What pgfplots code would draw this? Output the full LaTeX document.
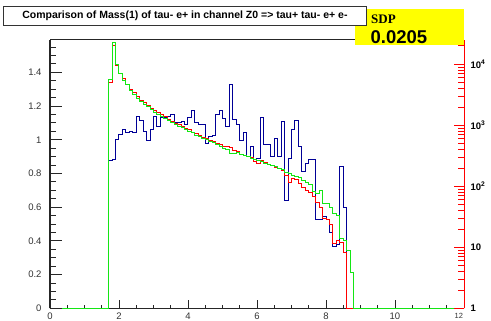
\documentclass[border=0pt]{standalone}
\usepackage{fontspec}
\setmainfont{Liberation Sans}
\newfontfamily\timesfont{Liberation Serif}
\usepackage{pgfplots}
\pgfplotsset{compat=1.18}
\usepackage{pgfplotstable}

\definecolor{histblue}{RGB}{0,0,150}
\definecolor{histred}{RGB}{255,0,0}
\definecolor{histgreen}{RGB}{20,230,20}
\definecolor{sdpyellow}{RGB}{255,255,0}

% Mass(1) of tau- e+ : bin left edges (width 0.1) and contents
% b = blue sample, r = red sample, g = green sample
\pgfplotstableread{
x    b     r     g
0    0     0     0
1.7  0.874 1.340 1.355
1.8  0.880 1.560 1.578
1.9  1.000 1.440 1.447
2.0  1.034 1.395 1.394
2.1  1.058 1.365 1.354
2.2  1.042 1.330 1.325
2.3  1.048 1.300 1.292
2.4  1.045 1.280 1.270
2.5  1.140 1.255 1.245
2.6  1.117 1.235 1.228
2.7  1.050 1.218 1.208
2.8  0.998 1.205 1.195
2.9  1.062 1.188 1.180
3.0  1.137 1.172 1.163
3.1  1.078 1.160 1.150
3.2  1.130 1.148 1.140
3.3  1.130 1.135 1.125
3.4  1.140 1.120 1.112
3.5  1.150 1.110 1.100
3.6  1.100 1.098 1.092
3.7  1.100 1.088 1.080
3.8  1.110 1.077 1.070
3.9  1.090 1.068 1.058
4.0  1.130 1.058 1.050
4.1  1.176 1.045 1.040
4.2  1.100 1.035 1.028
4.3  1.090 1.025 1.020
4.4  1.090 1.015 1.008
4.5  0.978 1.008 1.000
4.6  1.020 0.998 0.990
4.7  1.025 0.988 0.982
4.8  1.150 0.978 0.972
4.9  1.176 0.970 0.962
5.0  1.125 0.960 0.950
5.1  1.080 0.958 0.943
5.2  1.330 0.955 0.920
5.3  1.120 0.938 0.918
5.4  1.090 0.930 0.925
5.5  0.998 0.915 0.912
5.6  1.040 0.908 0.905
5.7  0.900 0.900 0.898
5.8  0.960 0.892 0.890
5.9  0.884 0.870 0.883
6.0  0.890 0.862 0.878
6.1  1.133 0.878 0.870
6.2  0.969 0.865 0.862
6.3  0.969 0.855 0.856
6.4  0.900 0.848 0.848
6.5  1.010 0.838 0.840
6.6  0.900 0.830 0.832
6.7  1.107 0.815 0.825
6.8  0.638 0.790 0.805
6.9  0.890 0.745 0.798
7.0  1.060 0.770 0.790
7.1  1.117 0.765 0.782
7.2  0.960 0.740 0.775
7.3  0.810 0.715 0.760
7.4  0.860 0.700 0.745
7.5  0.884 0.685 0.735
7.6  0.884 0.665 0.690
7.7  0.528 0.630 0.680
7.8  0.528 0.600 0.700
7.9  0.547 0.530 0.620
8.0  0.528 0.525 0.620
8.1  0.450 0.495 0.600
8.2  0.365 0.386 0.560
8.3  0.380 0.405 0.550
8.4  0.840 0.390 0.415
8.5  0.600 0.330 0.405
8.6  0     0     0.345
8.7  0     0     0.215
8.8  0     0     0
12   0     0     0
}\masstab

\pgfplotsset{
  frame geom/.style={
    at={(50pt,12.7pt)}, anchor=origin,
    scale only axis, width=414pt, height=268pt,
    xmin=0, xmax=12,
  },
}

\begin{document}
\begin{tikzpicture}
\useasboundingbox (0pt,0pt) rectangle (491pt,321pt);
\fill[white] (0pt,0pt) rectangle (491pt,321pt);

% histograms, x axis and its ticks
\begin{axis}[
  frame geom, ymin=0, ymax=1.59,
  axis x line*=bottom, axis y line*=left,
  axis line style={-, line width=1pt, black!85},
  xtick={0,2,...,12}, minor x tick num=3, ytick=\empty,
  xticklabels={0,2,4,6,8,10,{\makebox[0pt][r]{\fontsize{7.5}{8}\selectfont 12\hspace{1pt}}}},
  tick align=inside, major tick length=8pt, minor tick length=3.5pt,
  tick style={black!85, line width=0.8pt},
  xticklabel style={font=\fontsize{9.5}{10}\selectfont, text=black!80, yshift=-1pt},
  clip=false,
]
\addplot[const plot, histblue, line width=1pt] table[x=x, y=b] {\masstab};
\addplot[const plot, histred, line width=1pt] table[x=x, y=r] {\masstab};
\addplot[const plot, histgreen, line width=1pt] table[x=x, y=g] {\masstab};
\end{axis}

% left linear scale
\begin{axis}[
  frame geom, ymin=0, ymax=1.59,
  axis y line*=left, axis x line=none,
  axis line style={-, line width=1pt, black!85},
  ytick={0,0.2,...,1.41},
  minor ytick={0.05,0.1,0.15,0.25,0.3,0.35,0.45,0.5,0.55,0.65,0.7,0.75,
               0.85,0.9,0.95,1.05,1.1,1.15,1.25,1.3,1.35,1.45,1.5,1.55},
  tick align=inside, major tick length=12pt, minor tick length=6pt,
  tick style={black!85, line width=0.8pt},
  yticklabel style={font=\fontsize{9.5}{10}\selectfont, text=black!80, xshift=-5pt},
  /pgf/number format/assume math mode=true,
]
\end{axis}

% right logarithmic scale
\begin{axis}[
  frame geom, ymode=log, ymin=1, ymax=24700,
  axis y line*=right, axis x line=none,
  axis line style={-, line width=1pt, histred},
  ytick={1,10,100,1000,10000},
  yticklabels={1,10,10\textsuperscript{2},10\textsuperscript{3},10\textsuperscript{4}},
  minor ytick={2,3,4,5,6,7,8,9,20,30,40,50,60,70,80,90,
               200,300,400,500,600,700,800,900,
               2000,3000,4000,5000,6000,7000,8000,9000,20000},
  tick align=inside, major tick length=10pt, minor tick length=6pt,
  tick style={histred, line width=0.8pt},
  yticklabel style={font=\bfseries\fontsize{9.5}{10}\selectfont, text=black, xshift=3pt},
]
\end{axis}

% top frame line
\draw[line width=1pt, black!85] (50pt,281pt) -- (464pt,281pt);

% SDP box
\fill[sdpyellow] (355pt,276pt) rectangle (464pt,311.7pt);
\node[anchor=base west, inner sep=0] at (371pt,297pt)
  {\timesfont\bfseries\fontsize{13}{14}\selectfont SDP};
\node[anchor=base west, inner sep=0] at (370.5pt,277.5pt)
  {\bfseries\fontsize{18.5}{20}\selectfont 0.0205};

% title box
\node[draw=black!80, fill=white, line width=0.8pt, anchor=south west,
      minimum width=362.4pt, minimum height=18.7pt, inner sep=0]
  at (3.3pt,295pt)
  {\bfseries\fontsize{10.5}{12}\selectfont Comparison of Mass(1) of tau- e+ in channel Z0 => tau+ tau- e+ e-};
\end{tikzpicture}
\end{document}
